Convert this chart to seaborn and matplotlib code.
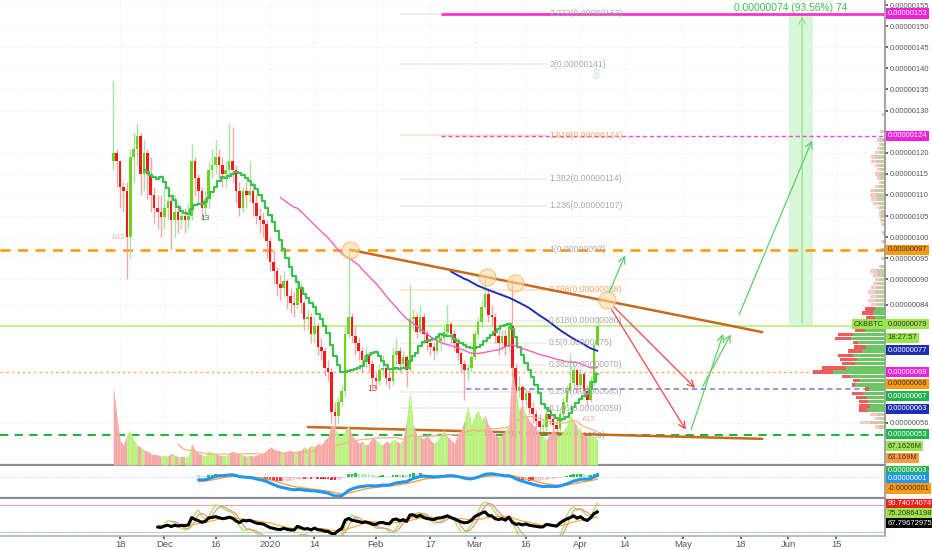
import numpy as np
import pandas as pd
import matplotlib
matplotlib.use("Agg")
import matplotlib.pyplot as plt
import matplotlib.ticker as mticker
import seaborn as sns

# CKB/BTC daily candles, prices in satoshi (1e-8 BTC)
start_date = "2019-11-16"
anchor_date = "2019-11-18"
first_open = 118
closes = [120, 118, 112, 111, 100, 119, 121, 124, 115, 120,
          115, 110, 107, 106, 104.7, 107, 108.5, 104, 106, 104,
          105, 104, 105, 118, 114, 111, 107, 109, 116, 117,
          119, 117, 115, 116, 118, 116, 111, 107, 111, 110,
          111, 108, 105, 104, 103, 99, 94, 92, 89, 88,
          89.5, 86, 84.5, 84, 88, 84.5, 80.5, 81, 77, 79,
          74, 73, 69, 68, 58.5, 57.5, 61, 63.5, 77, 81,
          76.5, 75, 73, 71, 72, 70, 66.5, 66, 68.5, 69,
          66.5, 66, 72, 73, 70, 71.5, 68.5, 80.5, 81, 77.5,
          81, 77, 75, 74, 73, 75.5, 76, 77.5, 79.5, 77,
          75, 72.5, 70, 68.5, 69, 71.5, 77, 80, 83.5, 86.5,
          81.5, 81, 76.5, 75, 76.5, 74, 79, 69, 63.5, 64.5,
          61.5, 63, 59.5, 58, 56.5, 55, 55, 58, 57, 55.5,
          54.5, 58, 61, 63.5, 65.5, 68.5, 65, 67.5, 63.5, 61.5,
          66, 74.5, 79]
highs = [137, 121, 118, 113, 113, 121, 125, 127, 125, 123,
         121, 119, 112, 110, 110, 112, 111, 110, 110, 108,
         107, 107, 108, 122, 119, 115, 112, 111, 118, 121,
         123, 121, 119, 118, 127, 126, 117, 113, 112, 113,
         118, 113, 110, 107, 106, 104, 100, 97, 93, 91,
         92, 90, 88, 87, 90, 89, 85, 83, 82, 81,
         80, 76, 74, 71, 69, 61, 62, 65, 79, 97,
         82, 79, 76, 74, 74, 73, 71, 68, 70, 72,
         70, 69, 74, 76, 74, 73, 72, 89, 83, 82,
         84, 82, 78, 76, 75, 77, 77, 79, 84, 80,
         78, 76, 73, 71, 70, 73, 78, 81, 85, 90,
         88, 84, 82, 78, 78, 78, 80, 90, 70, 67,
         65, 64, 64, 61, 59, 58, 57, 60, 60, 58,
         57, 59, 62, 65, 72.5, 70, 69, 69, 68, 65,
         67, 75, 81]
lows = [116, 112, 107, 106, 90, 95, 113, 117, 110, 111,
        109, 106, 103, 102, 100, 102, 104, 97, 100, 101,
        102, 101, 102, 104, 110, 108, 104, 105, 107, 114,
        115, 114, 112, 112, 114, 113, 108, 105, 106, 107,
        108, 105, 103, 101, 100, 95, 92, 89, 86, 85,
        86, 83, 82, 81, 83, 82, 78, 78, 75, 75,
        72, 71, 67, 66, 56, 55.5, 56, 60, 62, 76,
        75, 72, 71, 68, 69, 68, 64, 64, 65, 67,
        65, 64, 65, 70, 68, 69, 64.5, 68, 78, 76,
        77, 75, 73, 72, 71, 72, 73, 75, 77, 75,
        73, 71, 68, 61.5, 66, 68, 71, 76, 79, 83,
        80, 79, 75, 72, 73, 72, 73, 67, 61, 62,
        59, 60, 58, 56, 55, 54, 53.5, 54, 55.5, 54,
        53, 54, 57, 60, 63, 64, 63, 64, 62, 60,
        61, 65, 74]
# volume, millions
volumes = [215, 135, 68, 54, 81, 95, 68, 54, 49, 40,
           38, 32, 27, 27, 24, 27, 24, 32, 27, 22,
           22, 22, 24, 59, 40, 32, 27, 24, 38, 32,
           30, 27, 24, 24, 32, 38, 32, 30, 27, 24,
           27, 24, 27, 30, 32, 40, 49, 43, 40, 38,
           32, 38, 40, 35, 38, 40, 49, 43, 54, 49,
           59, 54, 68, 76, 108, 103, 81, 76, 95, 108,
           81, 68, 59, 65, 54, 59, 76, 68, 59, 54,
           65, 59, 70, 65, 59, 68, 122, 202, 108, 81,
           76, 70, 81, 68, 59, 65, 81, 95, 76, 68,
           59, 81, 95, 122, 162, 108, 135, 149, 122, 135,
           108, 95, 81, 76, 81, 95, 108, 270, 202, 149,
           162, 135, 122, 108, 103, 81, 76, 68, 81, 95,
           81, 76, 95, 108, 135, 122, 103, 95, 81, 76,
           81, 76, 68]

# volume profile (right side)
vp_price = [129, 125, 123, 122, 121, 120, 119, 118, 117, 116, 115, 114, 113, 112,
            111, 110, 109, 108, 107, 106, 105, 104, 103, 101, 99, 97, 95, 93,
            92, 91, 90, 89, 88, 87, 86, 85, 84, 83, 82, 81, 80, 79, 78, 77,
            76, 75, 74, 73, 72, 71, 70, 69, 68, 67, 66, 65, 64, 63, 62, 61,
            60, 59, 58, 57, 56, 55]
vp_total = [3, 5, 8, 6, 8, 10, 14, 14, 10, 8, 10, 8, 6, 10,
            15, 15, 14, 12, 8, 6, 6, 5, 4, 3, 4, 5, 4, 6,
            15, 12, 10, 12, 14, 17, 15, 17, 14, 20, 23, 19, 28, 28, 30, 47,
            50, 32, 31, 37, 47, 45, 43, 63, 72, 43, 32, 33, 20, 33, 29, 26,
            26, 26, 15, 10, 25, 10]
vp_up = [2, 3, 5, 4, 5, 6, 9, 9, 6, 5, 6, 5, 4, 6,
         10, 9, 8, 7, 5, 4, 4, 3, 2, 2, 2, 3, 2, 4,
         8, 7, 6, 8, 9, 10, 9, 10, 8, 10, 12, 10, 18, 18, 20, 32,
         34, 27, 19, 23, 32, 28, 30, 39, 52, 35, 25, 30, 16, 22, 18, 17,
         15, 18, 8, 6, 15, 6]

fib_ratios = [2.272, 2, 1.618, 1.382, 1.236, 1, 0.786, 0.618, 0.5, 0.382, 0.236, 0.146, 0]
fib_low, fib_high = 53, 97

tick_dates = ["2019-11-18", "2019-12-01", "2019-12-16", "2020-01-01", "2020-01-14",
              "2020-02-01", "2020-02-17", "2020-03-01", "2020-03-16", "2020-04-01",
              "2020-04-14", "2020-05-01", "2020-05-18", "2020-06-01", "2020-06-15"]
tick_labels = ["18", "Dec", "16", "2020", "14", "Feb", "17", "Mar", "16", "Apr",
               "14", "May", "18", "Jun", "15"]
price_ticks = [155, 150, 145, 140, 135, 130, 120, 115, 110, 105, 100, 95, 90, 84, 56]

# drawings (days after anchor, price)
trend_upper = [(67.4, 97.0), (188.3, 77.5)]
trend_lower = [(55.1, 55.0), (188.3, 52.2)]
touch_points = [(67.4, 97.0), (107.6, 90.5), (115.8, 89.1), (142.8, 85.1)]
green_arrows = [((143.1, 86.3), (148.4, 96.3)), ((167.2, 53.8), (177.1, 77.7)),
                ((170.4, 64.0), (179.5, 77.5)), ((181.2, 81.0), (203.2, 123.5))]
red_arrows = [((144.3, 83.9), (169.2, 63.8)), ((143.7, 83.4), (166.3, 53.8))]

anchor = pd.Timestamp(anchor_date)
dates = pd.date_range(start_date, periods=len(closes), freq="D")
days = np.array((dates - anchor).days, dtype=float)
df = pd.DataFrame({"day": days, "close": closes, "high": highs, "low": lows, "volume": volumes})
df["open"] = [first_open] + closes[:-1]
df["up"] = df["close"] >= df["open"]
df["sma50"] = df["close"].rolling(50).mean()
df["sma100"] = df["close"].rolling(100).mean()
df["trail"] = df["close"].rolling(10).mean()
df["vol_ma"] = df["volume"].rolling(20).mean()

ema12 = df["close"].ewm(span=12, adjust=False).mean()
ema26 = df["close"].ewm(span=26, adjust=False).mean()
df["macd"] = ema12 - ema26
df["signal"] = df["macd"].ewm(span=9, adjust=False).mean()
df["hist"] = df["macd"] - df["signal"]
df.loc[:24, ["macd", "signal", "hist"]] = np.nan

delta = df["close"].diff()
gain = delta.clip(lower=0).ewm(alpha=1 / 14, adjust=False).mean()
loss = (-delta.clip(upper=0)).ewm(alpha=1 / 14, adjust=False).mean()
df["rsi"] = 100 - 100 / (1 + gain / loss)
df["rsi_ma"] = df["rsi"].rolling(9).mean()
ll = df["low"].rolling(14).min()
hh = df["high"].rolling(14).max()
df["k"] = (100 * (df["close"] - ll) / (hh - ll)).rolling(3).mean()
df["d"] = df["k"].rolling(3).mean()
df.loc[:12, ["rsi", "rsi_ma", "k", "d"]] = np.nan

sns.set_theme(style="white")
plt.rcParams["font.family"] = ["Liberation Sans", "DejaVu Sans"]

fig = plt.figure(figsize=(9.32, 5.5), dpi=100)
W = 885 / 932
ax = fig.add_axes([0, 85 / 550, W, 465 / 550])
ax_m = fig.add_axes([0, 52 / 550, W, 32 / 550], sharex=ax)
ax_s = fig.add_axes([0, 14 / 550, W, 37 / 550], sharex=ax)

UP, DOWN = "#6fd21e", "#f01c1c"
UP_W, DOWN_W = "#a8e3a8", "#f5a6a6"
grid_kw = dict(color="#e6ebf2", ls=(0, (1, 3)), lw=0.8)
LBL = 5.5

# volume area (own scale)
axv = ax.twinx()
axv.set_ylim(0, 1255)
axv.axis("off")
for i in range(1, len(df)):
    c = "#b9f27c" if df["up"][i] else "#f7a9a9"
    axv.fill_between(df["day"][i - 1:i + 1], 0, df["volume"][i - 1:i + 1], color=c, lw=0)
axv.plot(df["day"], df["vol_ma"], color="#f6b38a", lw=0.9)

# grid
for d in (pd.to_datetime(tick_dates) - anchor).days:
    ax.axvline(d, **grid_kw, zorder=0)
for p in price_ticks:
    ax.axhline(p, **grid_kw, zorder=0)

# candles
ax.vlines(df["day"], df["low"], df["high"], colors=np.where(df["up"], UP_W, DOWN_W), lw=1, zorder=3)
body = (df["close"] - df["open"]).abs().clip(lower=0.4)
ax.bar(df["day"], body, bottom=df[["open", "close"]].min(axis=1), width=0.75,
       color=np.where(df["up"], UP, DOWN), lw=0, zorder=4)

sns.lineplot(data=df, x="day", y="trail", ax=ax, color="#3cc150", lw=1.6, drawstyle="steps-mid", zorder=5)
sns.lineplot(data=df, x="day", y="sma50", ax=ax, color="#f060c8", lw=1.0, zorder=5)
sns.lineplot(data=df, x="day", y="sma100", ax=ax, color="#1f2fb4", lw=1.4, zorder=5)

# horizontal levels
xl = (-35.2, 224.3)
ax.axhline(97, color="#ff9800", lw=1.8, ls=(0, (4, 3)), zorder=2)
ax.axhline(79, color="#b7f07a", lw=1.2, zorder=2)
ax.axhline(68, color="#ffb060", lw=1, ls=(0, (2, 2)), zorder=2)
ax.axhline(53, color="#1eb83c", lw=1.5, ls=(0, (4, 3)), zorder=2)
ax.hlines(153, 94.1, xl[1], color="#ff33cc", lw=2, zorder=2)
ax.hlines(124, 94.1, xl[1], color="#ff44cc", lw=1, ls=(0, (3, 2)), zorder=2)
ax.hlines(64, 101.5, xl[1], color="#8a8ee0", lw=1.3, ls=(0, (3, 2)), zorder=2)

# fibonacci
for r in fib_ratios:
    lvl = fib_low + r * (fib_high - fib_low)
    warm = r in (1.618, 0.786)
    ax.hlines(lvl, 82.1, 125.2, color="#fde3cc" if warm else "#ececec", lw=1.2, zorder=1)
    ax.text(125.8, lvl, f"{r:g}({lvl / 1e8:.8f})", fontsize=6.2, va="center",
            color="#f5a462" if warm else "#a9a9a9", zorder=6)

# trendlines and touches
for tl in (trend_upper, trend_lower):
    ax.plot([tl[0][0], tl[1][0]], [tl[0][1], tl[1][1]], color="#c8691c", lw=1.8, zorder=6)
ax.scatter([p[0] for p in touch_points], [p[1] for p in touch_points], s=150,
           facecolor="#ffd9a0", edgecolor="#f5b25a", alpha=0.6, lw=1, zorder=7)

for (a, b) in green_arrows:
    ax.annotate("", xy=b, xytext=a, arrowprops=dict(arrowstyle="->", color="#5ccf6a", lw=0.9), zorder=7)
for (a, b) in red_arrows:
    ax.annotate("", xy=b, xytext=a, arrowprops=dict(arrowstyle="->", color="#f04848", lw=0.9), zorder=7)

# projection box
ax.fill_between([196.2, 203.2], 79, 153, color="#d8f7d8", lw=0, zorder=1)
ax.annotate("", xy=(200, 153), xytext=(200, 79),
            arrowprops=dict(arrowstyle="->", color="#8fd98f", lw=0.8), zorder=2)
ax.text(213.2, 154.3, "0.00000074 (93.56%) 74", color="#3cc150", fontsize=7.4, ha="right", va="center", zorder=8)
ax.text(139.6, 138.4, "$", color="#c9efc9", fontsize=9, ha="center", va="center")
ax.text(-0.5, 99.5, "A13", color="#e7b7b7", fontsize=5.5, ha="center")
ax.text(25, 104, "13", color="#1e8a3a", fontsize=6, ha="center")
ax.text(74, 63.5, "13", color="#e53935", fontsize=6.5, ha="center")
ax.text(62.5, 49.5, "A13", color="#d0d0d0", fontsize=5.5, ha="center")
ax.text(137.5, 56.5, "A13", color="#f0b0b0", fontsize=5.5, ha="center")

# volume profile
axp = ax.twiny()
axp.set_xlim(max(vp_total) / 0.0814, 0)
axp.axis("off")
for p, t, u in zip(vp_price, vp_total, vp_up):
    a = 0.9 if 59 <= p <= 83 else 0.3
    axp.barh(p, t, height=0.8, color="#f04b4b", alpha=a, lw=0)
    axp.barh(p, u, height=0.8, color="#5fd16a", alpha=a, lw=0)
axp.text(219.6, 79.4, "CKBBTC", transform=ax.transData, fontsize=5.3, color="#333333",
         ha="center", va="center", zorder=10,
         bbox=dict(boxstyle="square,pad=0.25", fc="#9be64a", ec="none"))

ax.set_xlim(*xl)
ax.set_ylim(46.0, 156.2)
ax.yaxis.tick_right()
ax.set_yticks(price_ticks)
ax.yaxis.set_major_formatter(mticker.FuncFormatter(lambda v, _: f"{v / 1e8:.8f}"))
ax.tick_params(axis="y", labelsize=LBL, colors="#555555", length=2, pad=1.5, right=True)
ax.tick_params(axis="x", bottom=False, labelbottom=False)
ax.set_xlabel("")
ax.set_ylabel("")
for s in ("top", "left"):
    ax.spines[s].set_visible(False)
ax.spines["right"].set_color("#9598a1")
ax.spines["bottom"].set_color("#8a8d96")
ax.spines["bottom"].set_linewidth(1.6)


def box(axis, y, text, bg, fg="white"):
    axis.text(1.003, y, text, transform=axis.get_yaxis_transform(), fontsize=LBL, color=fg,
              va="center", ha="left", clip_on=False, zorder=10,
              bbox=dict(boxstyle="square,pad=0.22", fc=bg, ec="none"))


box(ax, 153, "0.00000153", "#ee22dd")
box(ax, 124, "0.00000124", "#ee22dd")
box(ax, 97, "0.00000097", "#ff9a10", "#333333")
box(ax, 79.4, "0.00000079", "#9be64a", "#333333")
box(ax, 76.1, "18:27:57", "#9be64a", "#333333")
box(ax, 73.2, "0.00000077", "#1f2fb4")
box(ax, 68.0, "0.00000068", "#ee22dd")
box(ax, 65.2, "0.00000068", "#ff9a10", "#333333")
box(ax, 62.3, "0.00000067", "#22b34c")
box(ax, 59.3, "0.00000063", "#1f2fb4")
box(ax, 53.3, "0.00000053", "#22b34c")
box(ax, 50.5, "67.1626M", "#9be64a", "#333333")
box(ax, 47.7, "63.169M", "#ff9a40", "#333333")

# MACD panel
hist = df["hist"]
prev = hist.shift(1)
hcol = np.where(hist >= 0, np.where(hist >= prev, "#2fbf46", "#b8ecc0"),
                np.where(hist < prev, "#f03030", "#ffc8cc"))
ax_m.bar(df["day"], hist.fillna(0), width=0.8, color=hcol, lw=0)
ax_m.axhline(0, color="#9fc5e8", lw=0.7, ls=(0, (1, 2)))
sns.lineplot(data=df, x="day", y="signal", ax=ax_m, color="#ff9f40", lw=1.0)
sns.lineplot(data=df, x="day", y="macd", ax=ax_m, color="#2196f3", lw=2.2)
lo = np.nanmin(df[["macd", "signal"]].values) * 1.1
ax_m.set_ylim(lo, -lo * 11 / 21)
ax_m.set_yticks([])
ax_m.set_xlabel("")
ax_m.set_ylabel("")
ax_m.tick_params(axis="x", bottom=False, labelbottom=False)
for s in ("top", "left"):
    ax_m.spines[s].set_visible(False)
ax_m.spines["right"].set_color("#9598a1")
ax_m.spines["bottom"].set_color("#8a8d96")
ax_m.spines["bottom"].set_linewidth(1.6)
box(ax_m, lo * -0.3, "0.00000003", "#22b34c")
box(ax_m, lo * 0.05, "0.00000001", "#2196f3")
box(ax_m, lo * 0.55, "-0.00000001", "#ff9a10", "#333333")

# oscillator panel
ax_s.axhspan(78.5, 81.5, color="#ffe0e0", lw=0)
ax_s.axhline(80, color="#f7a0a0", lw=0.7)
ax_s.axhline(20, color="#a9e3a9", lw=0.8)
ax_s.axhline(12.5, color="#cfe8f3", lw=0.6, ls=(0, (1, 2)))
sns.lineplot(data=df, x="day", y="k", ax=ax_s, color="#9be65a", lw=0.9)
sns.lineplot(data=df, x="day", y="d", ax=ax_s, color="#f58c8c", lw=0.9)
sns.lineplot(data=df, x="day", y="rsi_ma", ax=ax_s, color="#f5a623", lw=0.8)
sns.lineplot(data=df, x="day", y="rsi", ax=ax_s, color="black", lw=2.2)
ax_s.set_ylim(11, 94)
ax_s.set_yticks([])
ax_s.set_xlabel("")
ax_s.set_ylabel("")
for s in ("top", "left"):
    ax_s.spines[s].set_visible(False)
ax_s.spines["right"].set_color("#9598a1")
ax_s.spines["bottom"].set_color("#b0b3bb")
box(ax_s, 83, "90.74074074", "#f01c1c")
box(ax_s, 62, "75.20864198", "#9be64a", "#333333")
box(ax_s, 40, "67.79672975", "black")
ax_s.set_xticks((pd.to_datetime(tick_dates) - anchor).days)
ax_s.set_xticklabels(tick_labels)
ax_s.tick_params(axis="x", labelsize=6.8, colors="#555555", length=2, pad=1, bottom=True)

fig.savefig("out.png", dpi=100)
